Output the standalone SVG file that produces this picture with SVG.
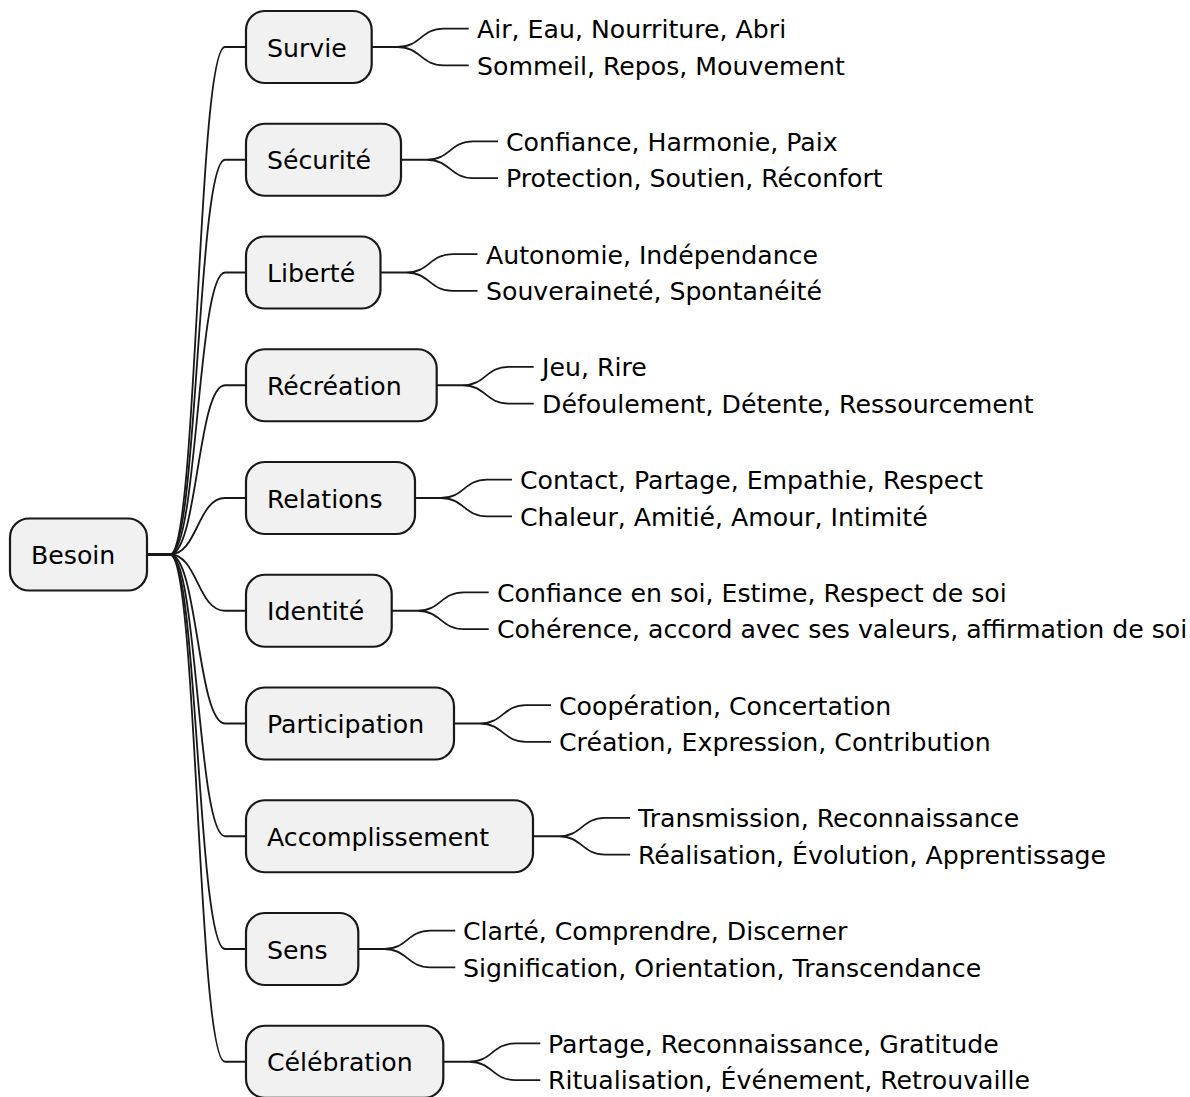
<svg xmlns="http://www.w3.org/2000/svg" width="1190" height="1097" viewBox="0 0 1190 1097">
<style>
text{font-family:"DejaVu Sans",sans-serif;font-size:25.2px;fill:#000}
.box{fill:#F1F1F1;stroke:#181818;stroke-width:2.2}
.c path{fill:none;stroke:#181818;stroke-width:1.8}
</style>
<rect width="1190" height="1097" fill="#fff"/>
<g class="c" id="connectors">
<path d="M147,554.5 L170,554.5 C197.5,554.5 197.5,47 225,47 L246,47"/>
<path d="M147,554.5 L170,554.5 C197.5,554.5 197.5,159.75 225,159.75 L246,159.75"/>
<path d="M147,554.5 L170,554.5 C197.5,554.5 197.5,272.5 225,272.5 L246,272.5"/>
<path d="M147,554.5 L170,554.5 C197.5,554.5 197.5,385.25 225,385.25 L246,385.25"/>
<path d="M147,554.5 L170,554.5 C197.5,554.5 197.5,498 225,498 L246,498"/>
<path d="M147,554.5 L170,554.5 C197.5,554.5 197.5,610.75 225,610.75 L246,610.75"/>
<path d="M147,554.5 L170,554.5 C197.5,554.5 197.5,723.5 225,723.5 L246,723.5"/>
<path d="M147,554.5 L170,554.5 C197.5,554.5 197.5,836.25 225,836.25 L246,836.25"/>
<path d="M147,554.5 L170,554.5 C197.5,554.5 197.5,949 225,949 L246,949"/>
<path d="M147,554.5 L170,554.5 C197.5,554.5 197.5,1061.75 225,1061.75 L246,1061.75"/>
<path d="M371.7,47 l26,0 c23,0 23,-18.3 46,-18.3 l25,0 M397.7,47 c23,0 23,18.3 46,18.3 l25,0"/>
<path d="M401,159.75 l26,0 c23,0 23,-18.3 46,-18.3 l25,0 M427,159.75 c23,0 23,18.3 46,18.3 l25,0"/>
<path d="M380.5,272.5 l26,0 c23,0 23,-18.3 46,-18.3 l25,0 M406.5,272.5 c23,0 23,18.3 46,18.3 l25,0"/>
<path d="M436.7,385.25 l26,0 c23,0 23,-18.3 46,-18.3 l25,0 M462.7,385.25 c23,0 23,18.3 46,18.3 l25,0"/>
<path d="M415,498 l26,0 c23,0 23,-18.3 46,-18.3 l25,0 M441,498 c23,0 23,18.3 46,18.3 l25,0"/>
<path d="M391.7,610.75 l26,0 c23,0 23,-18.3 46,-18.3 l25,0 M417.7,610.75 c23,0 23,18.3 46,18.3 l25,0"/>
<path d="M454,723.5 l26,0 c23,0 23,-18.3 46,-18.3 l25,0 M480,723.5 c23,0 23,18.3 46,18.3 l25,0"/>
<path d="M533,836.25 l26,0 c23,0 23,-18.3 46,-18.3 l25,0 M559,836.25 c23,0 23,18.3 46,18.3 l25,0"/>
<path d="M358.3,949 l26,0 c23,0 23,-18.3 46,-18.3 l25,0 M384.3,949 c23,0 23,18.3 46,18.3 l25,0"/>
<path d="M443.3,1061.75 l26,0 c23,0 23,-18.3 46,-18.3 l25,0 M469.3,1061.75 c23,0 23,18.3 46,18.3 l25,0"/>
</g>
<g id="n-besoin"><rect class="box" x="10" y="518.5" width="137" height="72" rx="19"/><text x="31" y="564">Besoin</text></g>
<g id="n-survie"><rect class="box" x="246" y="11" width="125.7" height="72" rx="19"/><text x="267" y="56.5">Survie</text></g>
<g id="n-securite"><rect class="box" x="246" y="123.75" width="155" height="72" rx="19"/><text x="267" y="169.25">Sécurité</text></g>
<g id="n-liberte"><rect class="box" x="246" y="236.5" width="134.5" height="72" rx="19"/><text x="267" y="282">Liberté</text></g>
<g id="n-recreation"><rect class="box" x="246" y="349.25" width="190.7" height="72" rx="19"/><text x="267" y="394.75">Récréation</text></g>
<g id="n-relations"><rect class="box" x="246" y="462" width="169" height="72" rx="19"/><text x="267" y="507.5">Relations</text></g>
<g id="n-identite"><rect class="box" x="246" y="574.75" width="145.7" height="72" rx="19"/><text x="267" y="620.25">Identité</text></g>
<g id="n-participation"><rect class="box" x="246" y="687.5" width="208" height="72" rx="19"/><text x="267" y="733">Participation</text></g>
<g id="n-accomplissement"><rect class="box" x="246" y="800.25" width="287" height="72" rx="19"/><text x="267" y="845.75">Accomplissement</text></g>
<g id="n-sens"><rect class="box" x="246" y="913" width="112.3" height="72" rx="19"/><text x="267" y="958.5">Sens</text></g>
<g id="n-celebration"><rect class="box" x="246" y="1025.75" width="197.3" height="72" rx="19"/><text x="267" y="1071.25">Célébration</text></g>
<g id="leaves">
<text x="477" y="38">Air, Eau, Nourriture, Abri</text>
<text x="477" y="74.6">Sommeil, Repos, Mouvement</text>
<text x="506" y="150.7">Confiance, Harmonie, Paix</text>
<text x="506" y="187.3">Protection, Soutien, Réconfort</text>
<text x="486" y="263.5">Autonomie, Indépendance</text>
<text x="486" y="300.1">Souveraineté, Spontanéité</text>
<text x="542" y="376.2">Jeu, Rire</text>
<text x="542" y="412.8">Défoulement, Détente, Ressourcement</text>
<text x="520" y="489">Contact, Partage, Empathie, Respect</text>
<text x="520" y="525.6">Chaleur, Amitié, Amour, Intimité</text>
<text x="497" y="601.7">Confiance en soi, Estime, Respect de soi</text>
<text x="497" y="638.3">Cohérence, accord avec ses valeurs, affirmation de soi</text>
<text x="559" y="714.5">Coopération, Concertation</text>
<text x="559" y="751.1">Création, Expression, Contribution</text>
<text x="638" y="827.2">Transmission, Reconnaissance</text>
<text x="638" y="863.8">Réalisation, Évolution, Apprentissage</text>
<text x="463" y="940">Clarté, Comprendre, Discerner</text>
<text x="463" y="976.6">Signification, Orientation, Transcendance</text>
<text x="548" y="1052.7">Partage, Reconnaissance, Gratitude</text>
<text x="548" y="1089.3">Ritualisation, Événement, Retrouvaille</text>
</g>
</svg>
